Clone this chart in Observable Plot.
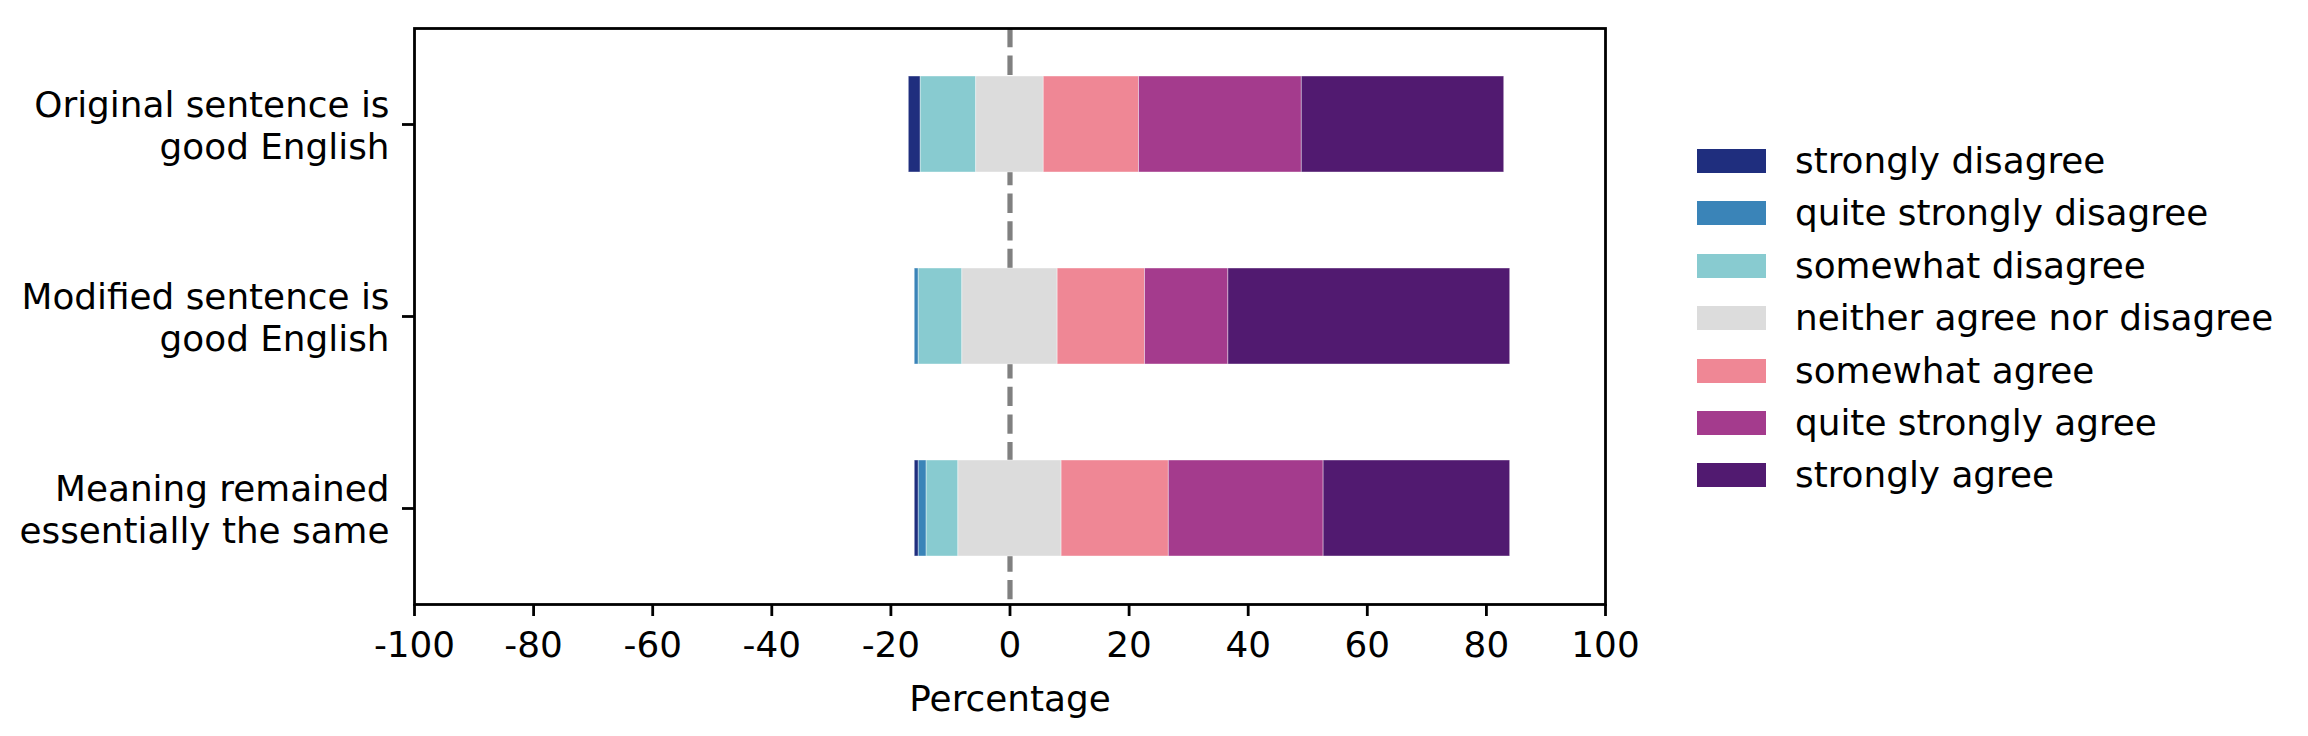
<!DOCTYPE html>
<html><head><meta charset="utf-8">
<script src="https://cdn.jsdelivr.net/npm/d3@7"></script>
<script src="https://cdn.jsdelivr.net/npm/@observablehq/plot@0.6"></script>
<style>
body{margin:0;background:#fff;}
#wrap{position:relative;width:2308px;height:736px;font-family:"DejaVu Sans",sans-serif;background:#fff;}
#wrap svg{position:absolute;left:0;top:0;}
.item{position:absolute;left:1697px;height:40px;display:flex;align-items:center;}
.sw{width:69px;height:24px;flex:none;}
.lab{margin-left:29px;font-size:35.8px;color:#000;white-space:nowrap;line-height:1;}
</style></head><body><div id="wrap"></div>
<script>
const questions = ["Original sentence is\ngood English", "Modified sentence is\ngood English", "Meaning remained\nessentially the same"];
const levels = ["strongly disagree", "quite strongly disagree", "somewhat disagree", "neither agree nor disagree", "somewhat agree", "quite strongly agree", "strongly agree"];
const colors = ["#1f2e7e", "#3a84b8", "#88cbd0", "#dcdcdc", "#ef8795", "#a43b8d", "#511a70"];
const stronglyDisagree      = [2.0, 0.0, 0.67];
const quiteStronglyDisagree = [0.0, 0.67, 1.33];
const somewhatDisagree      = [9.33, 7.33, 5.33];
const neitherAgree          = [11.33, 16.0, 17.33];
const somewhatAgree         = [16.0, 14.67, 18.0];
const quiteStronglyAgree    = [27.33, 14.0, 26.0];
const stronglyAgree         = [34.0, 47.33, 31.33];
const xTicks = [-100, -80, -60, -40, -20, 0, 20, 40, 60, 80, 100];
const xLabel = "Percentage";

const series = [stronglyDisagree, quiteStronglyDisagree, somewhatDisagree, neitherAgree, somewhatAgree, quiteStronglyAgree, stronglyAgree];
const table = [];
questions.forEach((q, i) => {
  let cum = -(series[0][i] + series[1][i] + series[2][i] + series[3][i] / 2);
  levels.forEach((lv, j) => {
    const v = series[j][i];
    table.push({question: q, level: lv, x1: cum, x2: cum + v});
    cum += v;
  });
});

const FS = 35.8;
const chart = Plot.plot({
  width: 2308,
  height: 736,
  marginLeft: 414,
  marginRight: 703,
  marginTop: 28,
  marginBottom: 132,
  style: {fontFamily: "DejaVu Sans", fontSize: FS + "px", background: "white", color: "black", overflow: "visible"},
  x: {domain: [-100, 100], ticks: xTicks},
  y: {domain: questions, paddingInner: 0.5, paddingOuter: 0.25},
  color: {domain: levels, range: colors},
  marks: [
    Plot.ruleX([0], {stroke: "#808080", strokeWidth: 5.2, strokeDasharray: "19.3,8.3"}),
    Plot.barX(table, {x1: "x1", x2: "x2", y: "question", fill: "level", stroke: "white", strokeWidth: 0.8, strokeOpacity: 0.5}),
    Plot.frame({stroke: "black", strokeWidth: 2.8}),
    Plot.axisX({ticks: xTicks, tickSize: 12, tickPadding: 15, strokeWidth: 2.8, fontSize: FS, tickFormat: d => String(d), label: null}),
    Plot.axisY({tickSize: 12, tickPadding: 13, strokeWidth: 2.8, fontSize: FS, lineHeight: 1.17, textAnchor: "end", label: null}),
    Plot.text([xLabel], {text: d => d, frameAnchor: "bottom", dy: 95, fontSize: FS, lineAnchor: "middle", fill: "black"})
  ]
});
const wrap = document.getElementById("wrap");
wrap.appendChild(chart);

levels.forEach((lv, j) => {
  const it = document.createElement("div");
  it.className = "item";
  it.style.top = (161 + j * 52.4 - 20) + "px";
  const sw = document.createElement("div");
  sw.className = "sw";
  sw.style.background = colors[j];
  const lab = document.createElement("div");
  lab.className = "lab";
  lab.textContent = lv;
  it.appendChild(sw); it.appendChild(lab);
  wrap.appendChild(it);
});
</script></body></html>
